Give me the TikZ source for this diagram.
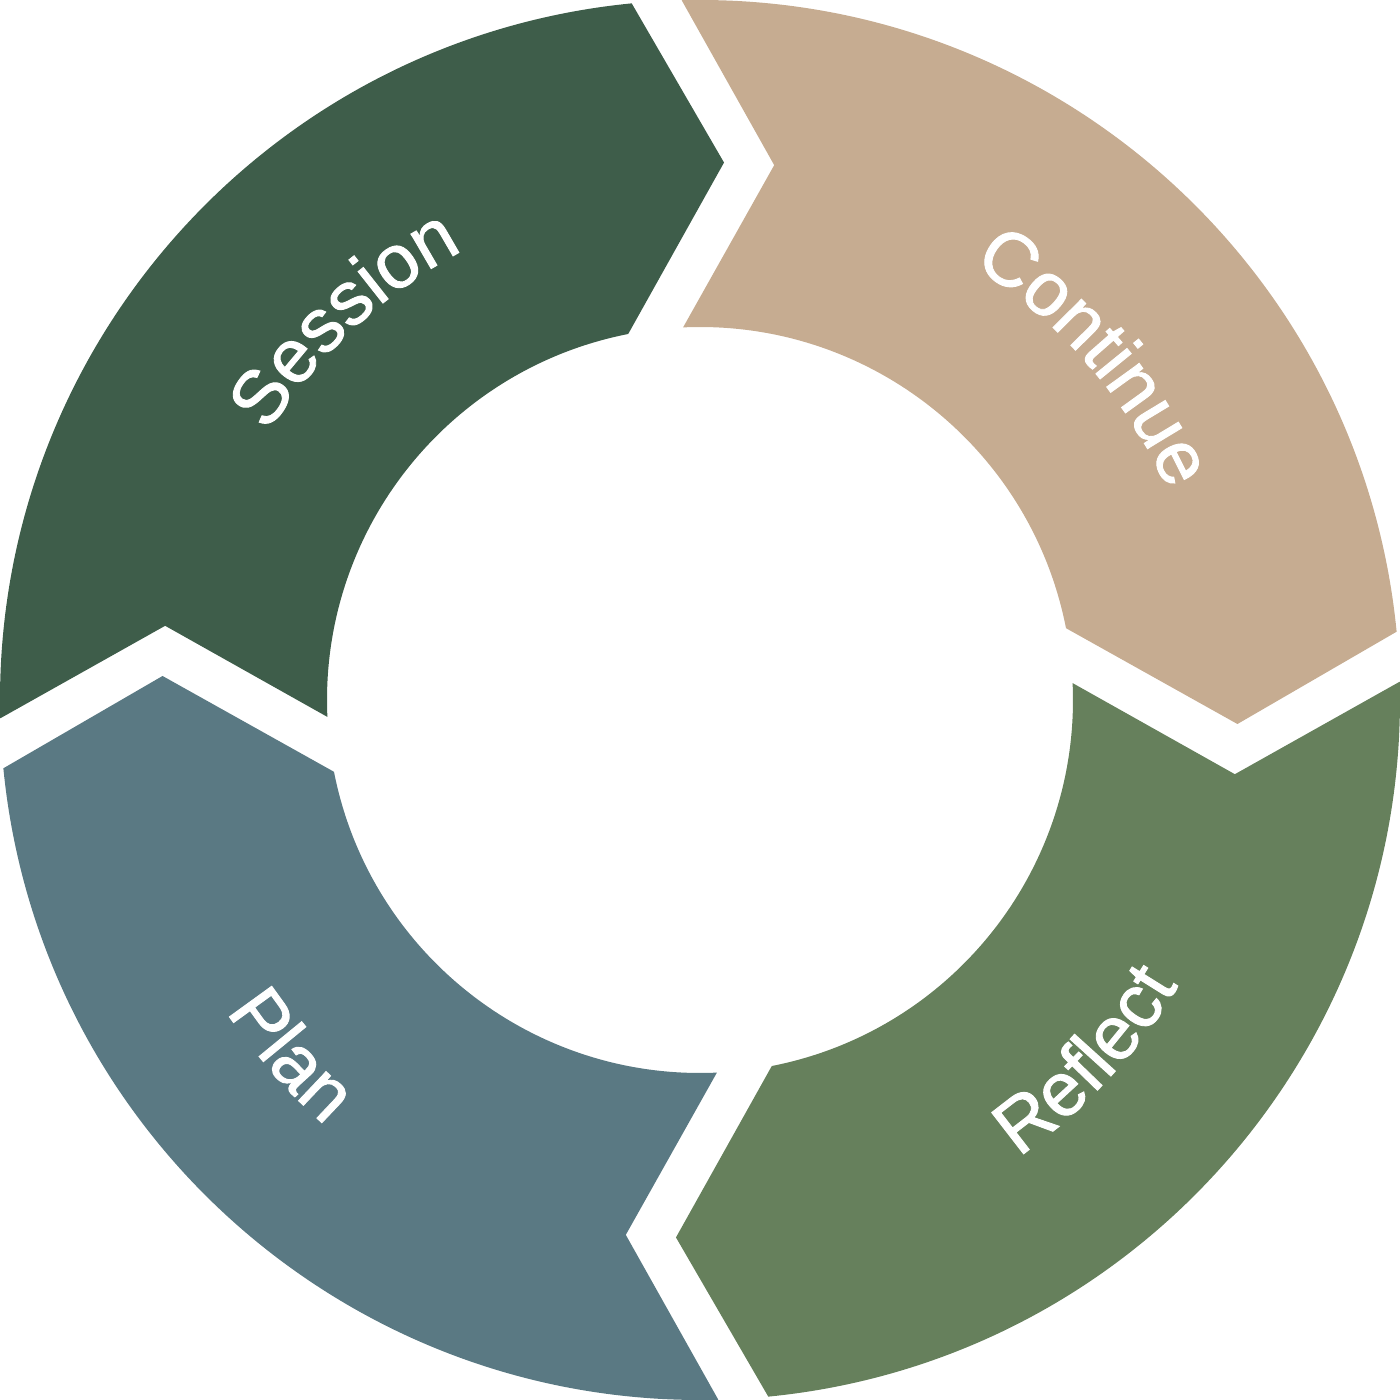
\documentclass[tikz,border=0pt]{standalone}
\usepackage{fontspec}
\setmainfont{Liberation Sans}
\newfontfamily\lblfont[FakeBold=1.2]{Liberation Sans}
\usetikzlibrary{decorations.text}
\definecolor{sessioncol}{HTML}{3E5D4A}
\definecolor{continuecol}{HTML}{C6AC91}
\definecolor{reflectcol}{HTML}{66805C}
\definecolor{plancol}{HTML}{5A7983}
\newcommand{\lbl}{\lblfont\fontsize{21.6}{26}\selectfont}

\begin{document}
\begin{tikzpicture}[
 labelarc/.style={decorate,decoration={text along path,text align=center,
  text color=white,text={|\lbl|#1}}}]
\useasboundingbox (-7,-7) rectangle (7,7);
% four arrow segments of the ring, clockwise
\foreach \s/\c in {180/sessioncol,90/continuecol,0/reflectcol,-90/plancol}
 {\fill[\c] ({\s+1.5}:7) arc[start angle=\s+1.5,end angle=\s-84.4,radius=7]
   --({\s-92.56}:5.38)--({\s-78.9}:3.73)
   arc[start angle=\s-78.9,end angle=\s+2.6,radius=3.73]
   --({\s-7.9}:5.4)--cycle;}
% labels
\path[labelarc=Session] (173:5.08) arc[start angle=173,end angle=93,radius=5.08];
\path[labelarc=Continue] (81:5.13) arc[start angle=81,end angle=1,radius=5.13];
\path[labelarc=Reflect] (-83:5.57) arc[start angle=-83,end angle=-3,radius=5.57];
\path[labelarc=Plan] (181:5.67) arc[start angle=181,end angle=261,radius=5.67];
\end{tikzpicture}
\end{document}
